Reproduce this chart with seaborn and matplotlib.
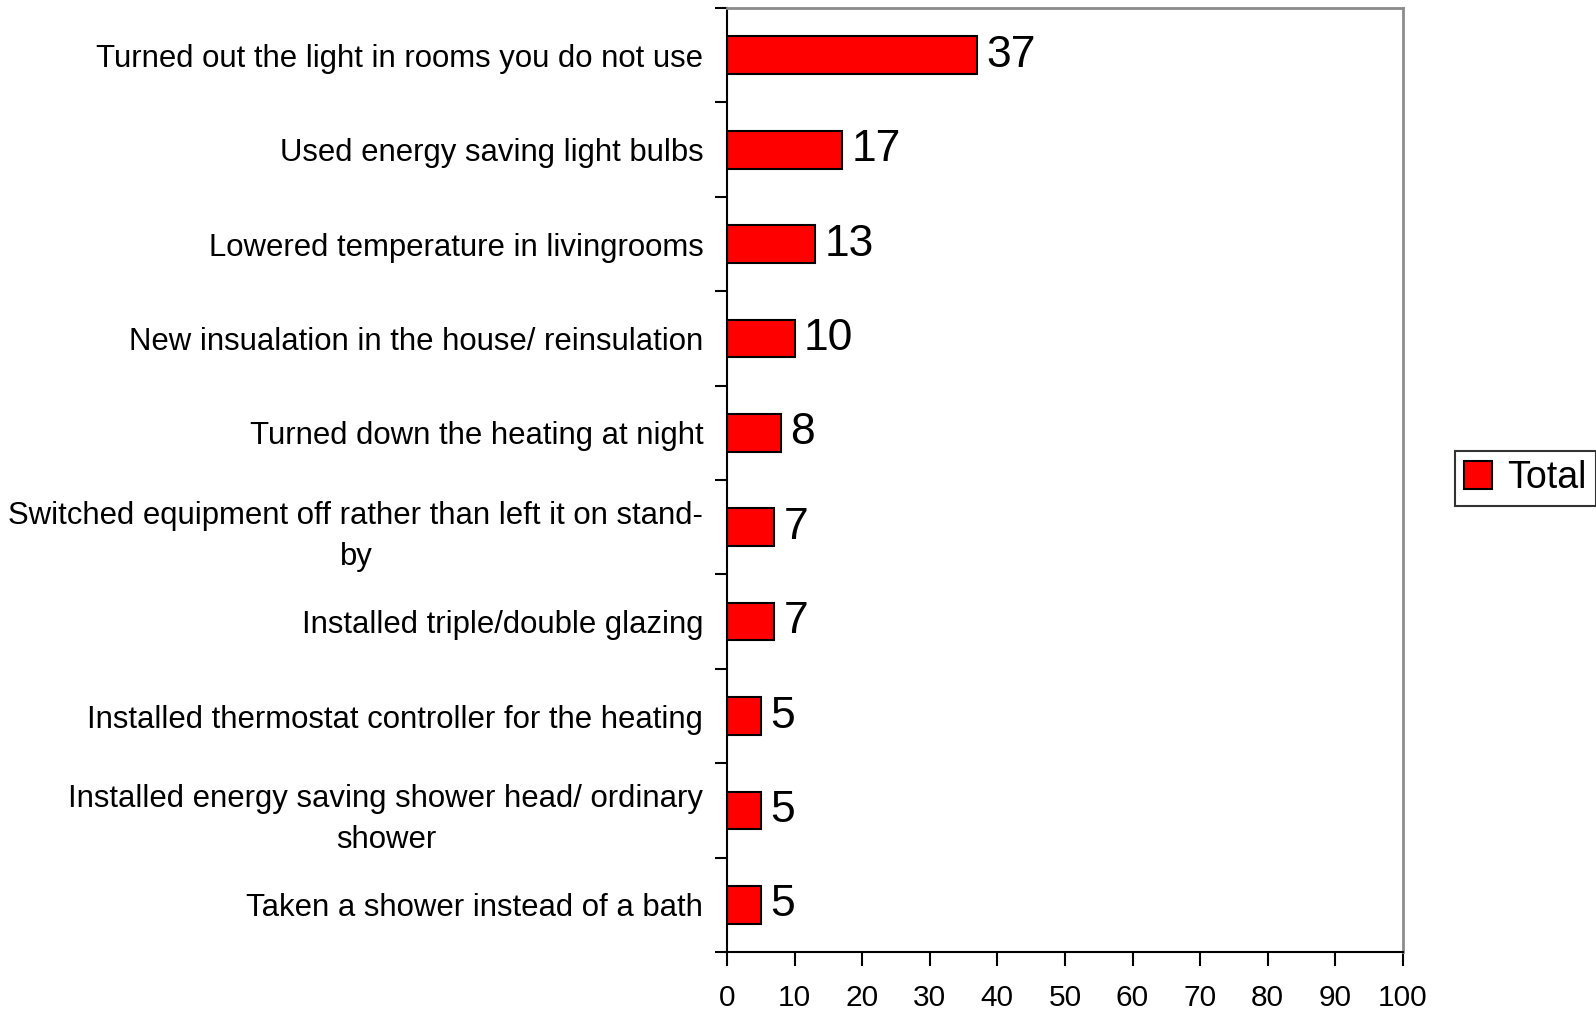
import numpy as np
import pandas as pd
import matplotlib
matplotlib.use("Agg")
import matplotlib.pyplot as plt
import seaborn as sns

# data
actions = ["Turned out the light in rooms you do not use",
           "Used energy saving light bulbs",
           "Lowered temperature in livingrooms",
           "New insualation in the house/ reinsulation",
           "Turned down the heating at night",
           "Switched equipment off rather than left it on stand-\nby",
           "Installed triple/double glazing",
           "Installed thermostat controller for the heating",
           "Installed energy saving shower head/ ordinary\nshower",
           "Taken a shower instead of a bath"]
totals = [37, 17, 13, 10, 8, 7, 7, 5, 5, 5]
x_ticks = [0, 10, 20, 30, 40, 50, 60, 70, 80, 90, 100]

df = pd.DataFrame({"action": actions, "value": totals, "series": "Total"})

sns.set_style("white")
plt.rcParams['font.family'] = ['Liberation Sans', 'DejaVu Sans']
plt.rcParams['text.color'] = 'black'
plt.rcParams['xtick.color'] = 'black'
plt.rcParams['ytick.color'] = 'black'

fig = plt.figure(figsize=(15.96, 10.09), dpi=100)
ax = fig.add_axes([0.4555, 0.0565, 0.4235, 0.9355])

sns.barplot(data=df, y="action", x="value", orient="h", color="#ff0000",
            saturation=1, edgecolor="black", linewidth=1.5, width=0.4, ax=ax)

for i, v in enumerate(totals):
    ax.text(v + 1.4, i, str(v), va="center", ha="left", fontsize=32, color="black")

ax.set_xlim(0, 100)
ax.set_ylim(len(actions) - 0.5, -0.5)
ax.set_xticks(x_ticks)
ax.set_xlabel("")
ax.set_ylabel("")

# tick marks between categories, labels at centers
ax.set_yticks(np.arange(-0.5, len(actions), 1.0), minor=True)
ax.tick_params(axis="y", which="both", left=True)
ax.tick_params(axis="y", which="major", length=0, pad=17, labelsize=22.4)
ax.tick_params(axis="y", which="minor", length=9, width=1.5, color="black", direction="out")
ax.tick_params(axis="x", which="major", bottom=True, length=10, width=1.5, color="black",
               direction="out", pad=13, labelsize=21.5)
for lab in ax.get_yticklabels():
    lab.set_multialignment("center")
    lab.set_linespacing(1.5)

for side in ["left", "bottom"]:
    ax.spines[side].set_color("black")
    ax.spines[side].set_linewidth(1.5)
for side in ["top", "right"]:
    ax.spines[side].set_color("#8c8c8c")
    ax.spines[side].set_linewidth(2)

handle = plt.Rectangle((0, 0), 1, 1, facecolor="#ff0000", edgecolor="black", linewidth=1.5)
leg = fig.legend([handle], ["Total"], loc="center right", bbox_to_anchor=(1.0, 0.526),
                 fontsize=27, frameon=True, fancybox=False, edgecolor="black",
                 handlelength=0.75, handleheight=0.75, handletextpad=0.4, borderpad=0.25,
                 borderaxespad=0.0)
leg.get_frame().set_linewidth(1.5)

fig.savefig("out.png", dpi=100, facecolor="white")
